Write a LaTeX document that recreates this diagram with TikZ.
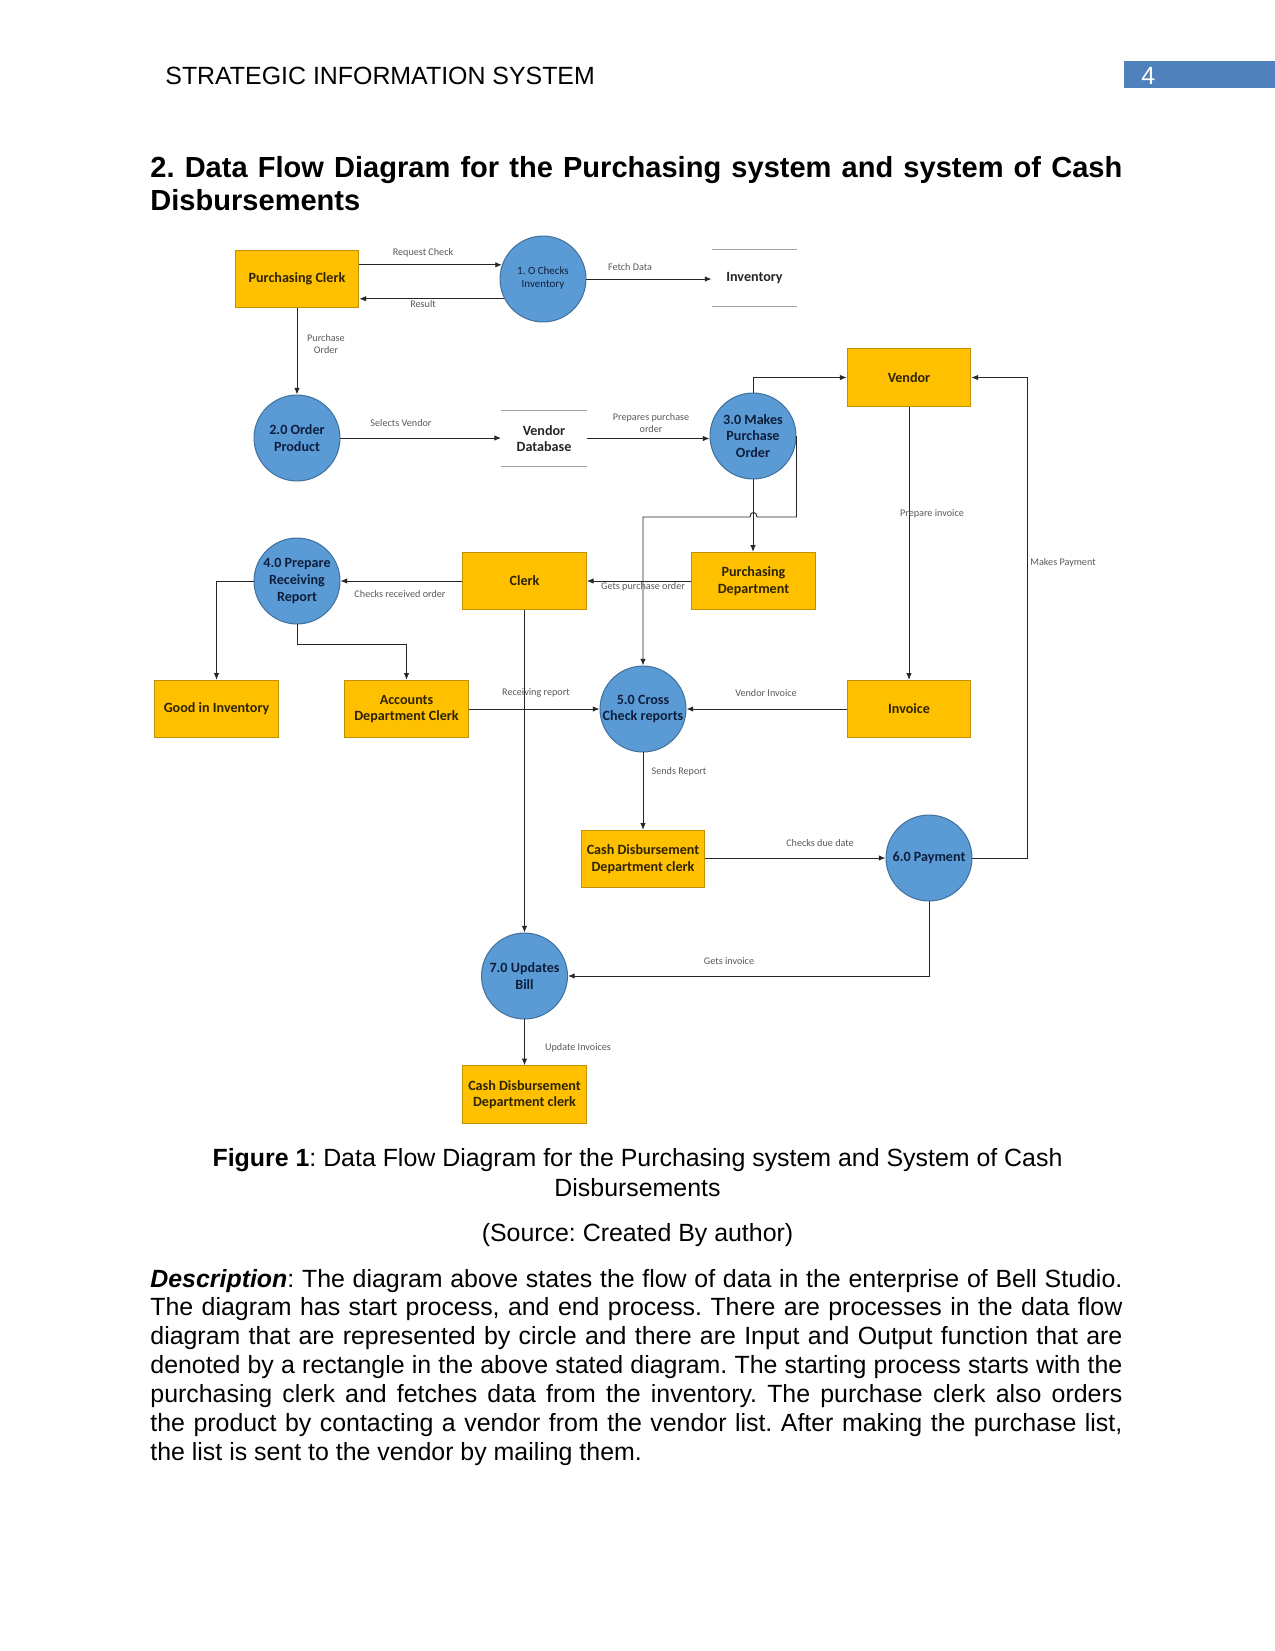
\documentclass[tikz,border=0pt]{standalone}
\usepackage{fontspec}
\setmainfont{Liberation Sans}
\newfontfamily\dfont{Carlito}
\usetikzlibrary{arrows.meta,calc}
\definecolor{boxgold}{HTML}{FFC000}
\definecolor{boxedge}{HTML}{BF9000}
\definecolor{procblue}{HTML}{5B9BD5}
\definecolor{procedge}{HTML}{41719C}
\definecolor{boxtext}{HTML}{2E2400}
\definecolor{proctext}{HTML}{0E1E3C}
\definecolor{lncol}{HTML}{262626}
\definecolor{labgray}{HTML}{5A5A5A}
\definecolor{pgblue}{HTML}{4F81BD}
\definecolor{storeline}{HTML}{A6A6A6}
\tolerance=10000
\hbadness=10000
\frenchspacing
\begin{document}
\begin{tikzpicture}[x=0.48181pt, y=-0.48181pt,
  box/.style={draw=boxedge, line width=0.5pt, fill=boxgold, minimum width=59.6pt, minimum height=27.6pt,
    inner sep=1pt, align=center, text=boxtext, font=\dfont\bfseries\fontsize{6.8}{8}\selectfont},
  proc/.style={circle, draw=procedge, line width=0.5pt, fill=procblue, minimum size=41.4pt, inner sep=0pt},
  ptext/.style={inner sep=0pt, align=center, text=proctext, font=\dfont\bfseries\fontsize{6.8}{8}\selectfont},
  store/.style={minimum width=41pt, minimum height=27pt, inner sep=0pt, align=center, text=lncol,
    font=\dfont\bfseries\fontsize{6.8}{8}\selectfont},
  sline/.style={draw=storeline, line width=0.5pt},
  arr/.style={draw=lncol, line width=0.45pt, -{Latex[length=3.2pt,width=2.6pt]}},
  lab/.style={inner sep=0pt, align=center, text=labgray, font=\dfont\fontsize{4.9}{5.6}\selectfont}
]
\useasboundingbox (0,0) rectangle (1275,1651);
\fill[white] (0,0) rectangle (1275,1651);

% ---------- page text ----------
\node[anchor=base west, inner sep=0pt, font=\fontsize{12}{14}\selectfont] (hdr) at (165,84) {STRATEGIC INFORMATION SYSTEM};
\fill[pgblue] (1124,61) rectangle (1275,88);
\node[anchor=base west, inner sep=0pt, text=white, font=\fontsize{12}{14}\selectfont] (pgno) at (1141,84) {4};

\node[anchor=base west, inner sep=0pt] (title) at (150,177) {\parbox[t]{6.48in}{\fontsize{14}{16}\selectfont\bfseries
2. Data Flow Diagram for the Purchasing system and system of Cash\linebreak Disbursements}};

\node[anchor=base, inner sep=0pt, font=\fontsize{12}{14}\selectfont] (cap1) at (637.5,1166) {\textbf{Figure 1}: Data Flow Diagram for the Purchasing system and System of Cash};
\node[anchor=base, inner sep=0pt, font=\fontsize{12}{14}\selectfont] (cap2) at (637.5,1196) {Disbursements};
\node[anchor=base, inner sep=0pt, font=\fontsize{12}{14}\selectfont] (src) at (637.5,1241) {(Source: Created By author)};

\node[anchor=base west, inner sep=0pt] (desc) at (150,1287) {\parbox[t]{6.48in}{\fontsize{12}{13.9}\selectfont
\textbf{\textit{Description}}: The diagram above states the flow of data in the enterprise of Bell Studio.\linebreak
The diagram has start process, and end process. There are processes in the data flow\linebreak
diagram that are represented by circle and there are Input and Output function that are\linebreak
denoted by a rectangle in the above stated diagram. The starting process starts with the\linebreak
purchasing clerk and fetches data from the inventory. The purchase clerk also orders\linebreak
the product by contacting a vendor from the vendor list. After making the purchase list,\linebreak
the list is sent to the vendor by mailing them.}};

% ---------- diagram nodes ----------
\node[box] (pc) at (297,279) {Purchasing Clerk};
\node[proc] (p1) at (543,279) {};
\node[ptext, font=\dfont\fontsize{5.3}{6.1}\selectfont] (p1t) at (543,278) {1. O Checks\\Inventory};
\node[store] (inv) at (754.5,278) {Inventory};

\node[proc] (p2) at (297,438) {};
\node[ptext] (p2t) at (p2) {2.0 Order\\Product};
\node[store] (vdb) at (544,438.5) {Vendor\\Database};
\node[proc] (p3) at (753,436) {};
\node[ptext] (p3t) at (p3) {3.0 Makes\\Purchase\\Order};
\node[box] (vendor) at (909,377.5) {Vendor};

\node[proc] (p4) at (297,581) {};
\node[ptext] (p4t) at (p4) {4.0 Prepare\\Receiving\\Report};
\node[box] (clerk) at (524.5,581) {Clerk};
\node[box] (pd) at (753.5,581) {Purchasing\\Department};

\node[box] (gii) at (216.5,709) {Good in Inventory};
\node[box] (adc) at (406.5,709) {Accounts\\Department Clerk};
\node[proc] (p5) at (643,709) {};
\node[ptext] (p5t) at (p5) {5.0 Cross\\Check reports};
\node[box] (invoice) at (909,709) {Invoice};

\node[box] (cdc1) at (643,859) {Cash Disbursement\\Department clerk};
\node[proc] (p6) at (929,858) {};
\node[ptext] (p6t) at (p6) {6.0 Payment};

\node[proc] (p7) at (524.5,976) {};
\node[ptext] (p7t) at (p7) {7.0 Updates\\Bill};
\node[box] (cdc2) at (524.5,1094.5) {Cash Disbursement\\Department clerk};

% data store lines
\draw[sline] (inv.north west) -- (inv.north east) (inv.south west) -- (inv.south east);
\draw[sline] (vdb.north west) -- (vdb.north east) (vdb.south west) -- (vdb.south east);

% ---------- connectors ----------
\draw[arr] (pc.east |- p1.161) -- (p1.161);
\draw[arr] (p1.207) -- (pc.east |- p1.207);
\draw[arr] (p1.east) -- (p1.east -| inv.west);
\draw[arr] (pc.south) -- (p2.north);
\draw[arr] (p2.east) -- (p2.east -| vdb.west);
\draw[arr] (vdb.east) -- (vdb.east -| p3.west);
\draw[arr] (p3.north) |- (vendor.west);
\draw[arr] (p3.south) -- (p3.south |- pd.north);
\draw[arr] (p3.east) -- (p3.east |- 0,517) -- (757,517) .. controls (757,511) and (750,511) .. (750,517) -- (p5.north |- 0,517) -- (p5.north);
\draw[arr] (pd.west) -- (clerk.east);
\draw[arr] (clerk.west) -- (p4.east);
\draw[arr] (p4.west) -| (gii.north);
\draw[arr] (p4.south) -- (297,644) -| (adc.north);
\draw[arr] (adc.east) -- (p5.west);
\draw[arr] (clerk.south) -- (p7.north);
\draw[arr] (invoice.west) -- (p5.east);
\draw[arr] (vendor.south) -- (invoice.north);
\draw[arr] (p6.east) -- (1027,858) |- (vendor.east);
\draw[arr] (cdc1.east |- p6.west) -- (p6.west);
\draw[arr] (p5.south) -- (cdc1.north);
\draw[arr] (p6.south) |- (p7.east);
\draw[arr] (p7.south) -- (cdc2.north);

% ---------- connector labels ----------
\node[lab] (l1) at (423,253) {Request Check};
\node[lab] (l2) at (423,304) {Result};
\node[lab] (l3) at (630,267) {Fetch Data};
\node[lab] (l4) at (326,344) {Purchase\\Order};
\node[lab] (l5) at (401,423) {Selects Vendor};
\node[lab] (l6) at (651,423) {Prepares purchase\\order};
\node[lab] (l7) at (932,514) {Prepare invoice};
\node[lab] (l8) at (643,587) {Gets purchase order};
\node[lab] (l9) at (400,594) {Checks received order};
\node[lab] (l10) at (1063,563) {Makes Payment};
\node[lab] (l11) at (536,693) {Receiving report};
\node[lab] (l12) at (766,693) {Vendor Invoice};
\node[lab] (l13) at (679,772) {Sends Report};
\node[lab] (l14) at (820,843) {Checks due date};
\node[lab] (l15) at (729,961) {Gets invoice};
\node[lab] (l16) at (578,1048) {Update Invoices};
\end{tikzpicture}
\end{document}
